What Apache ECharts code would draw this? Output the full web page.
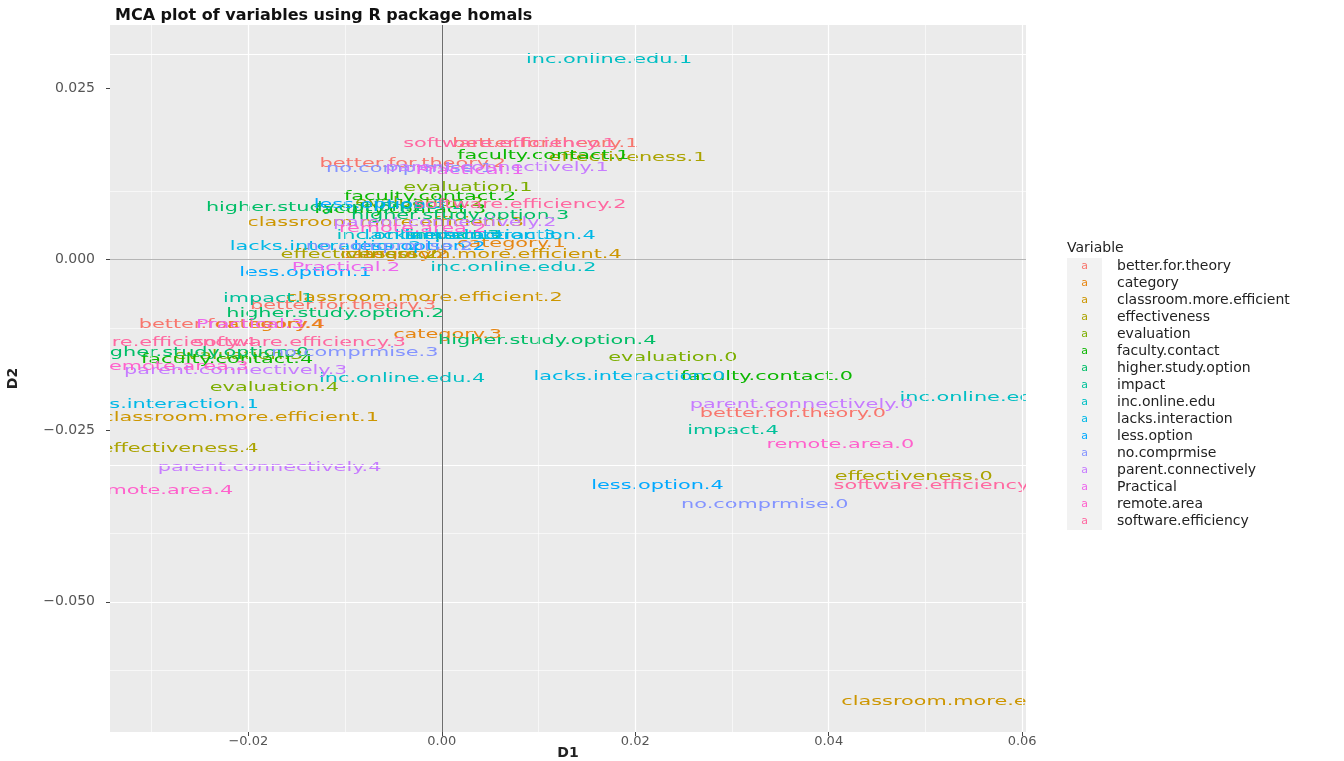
<!DOCTYPE html>
<html>
<head>
<meta charset="utf-8">
<script src="https://cdn.jsdelivr.net/npm/echarts@6/dist/echarts.min.js"></script>
<style>html,body{margin:0;padding:0;background:#fff}#c{width:1344px;height:761px}</style>
</head>
<body>
<div id="c"></div>
<script>
// ---- data: [D1, D2, level] ----
const variables = ['better.for.theory','category','classroom.more.efficient','effectiveness','evaluation',
  'faculty.contact','higher.study.option','impact','inc.online.edu','lacks.interaction','less.option',
  'no.comprmise','parent.connectively','Practical','remote.area','software.efficiency'];
const colors = ['#F8766D','#E68613','#CD9600','#ABA300','#7CAE00','#0CB702','#00BE67','#00C19A',
  '#00BFC4','#00B8E7','#00A9FF','#8494FF','#C77CFF','#ED68ED','#FF61CC','#FF68A1'];

const better_for_theory = [[0.0363,-0.0225,0],[0.0107,0.0169,1],[-0.0030,0.0140,2],[-0.0102,-0.0067,3],[-0.0217,-0.0095,4]];
const category = [[0.0072,0.0023,1],[-0.0049,0.0007,2],[0.0006,-0.0110,3],[-0.0178,-0.0095,4]];
const classroom_more_efficient = [[0.0556,-0.0645,0],[-0.0208,-0.0231,1],[-0.0018,-0.0056,2],[-0.0058,0.0054,3],[0.0043,0.0007,4]];
const effectiveness = [[0.0488,-0.0317,0],[0.0192,0.0149,1],[-0.0085,0.0007,2],[-0.0271,-0.0276,4]];
const evaluation = [[0.0239,-0.0143,0],[0.0027,0.0105,1],[-0.0023,0.0082,2],[-0.0210,-0.0140,3],[-0.0173,-0.0188,4]];
const faculty_contact = [[0.0336,-0.0171,0],[0.0105,0.0152,1],[-0.0012,0.0091,2],[-0.0043,0.0072,3],[-0.0222,-0.0147,4]];
const higher_study_option = [[-0.0250,-0.0136,0],[-0.0131,0.0075,1],[-0.0110,-0.0079,2],[0.0019,0.0064,3],[0.0109,-0.0118,4]];
const impact = [[-0.0179,-0.0057,1],[-0.0023,0.0079,2],[0.0013,0.0034,3],[0.0301,-0.0250,4]];
const inc_online_edu = [[0.0559,-0.0202,0],[0.0173,0.0292,1],[0.0074,-0.0012,2],[-0.0023,0.0034,3],[-0.0041,-0.0174,4]];
const lacks_interaction = [[0.0194,-0.0171,0],[-0.0288,-0.0212,1],[-0.0120,0.0018,2],[0.0019,0.0034,3],[0.0060,0.0034,4]];
const less_option = [[-0.0141,-0.0019,1],[-0.0023,0.0018,2],[-0.0064,0.0080,3],[0.0223,-0.0330,4]];
const no_comprmise = [[0.0334,-0.0358,0],[-0.0033,0.0133,1],[-0.0054,0.0018,2],[-0.0090,-0.0136,3]];
const parent_connectively = [[0.0372,-0.0212,0],[0.0057,0.0134,1],[0.0003,0.0054,2],[-0.0213,-0.0162,3],[-0.0178,-0.0304,4]];
const practical = [[0.0029,0.0130,1],[-0.0099,-0.0012,2],[-0.0198,-0.0095,3]];
const remote_area = [[0.0412,-0.0270,0],[-0.0030,0.0045,2],[-0.0276,-0.0156,3],[-0.0292,-0.0337,4]];
const software_efficiency = [[0.0515,-0.0331,0],[0.0070,0.0169,1],[0.0081,0.0080,2],[-0.0147,-0.0121,3],[-0.0302,-0.0121,4]];

const seriesData = [better_for_theory, category, classroom_more_efficient, effectiveness, evaluation,
  faculty_contact, higher_study_option, impact, inc_online_edu, lacks_interaction, less_option,
  no_comprmise, parent_connectively, practical, remote_area, software_efficiency];

const xTicks = [-0.02, 0, 0.02, 0.04, 0.06];
const yTicks = [-0.05, -0.025, 0, 0.025];
const xMinor = [-0.03, -0.01, 0.01, 0.03, 0.05];
const yMinor = [-0.0625, -0.0375, -0.0125, 0.0125];
const D1_MIN = -0.0343, D1_MAX = 0.0604, D2_MIN = -0.0690, D2_MAX = 0.0342;

const FONT = '"DejaVu Sans", "Liberation Sans", sans-serif';
const fmt = (v, d) => (v < 0 ? '\u2212' : '') + Math.abs(v).toFixed(d);

const chart = echarts.init(document.getElementById('c'));

const gridLines = [];
xTicks.forEach(v => gridLines.push({xAxis: v, lineStyle: {color: '#ffffff', width: 1.2}}));
xMinor.forEach(v => gridLines.push({xAxis: v, lineStyle: {color: '#ffffff', width: 0.6}}));
yTicks.forEach(v => gridLines.push({yAxis: v, lineStyle: {color: '#ffffff', width: 1.2}}));
yMinor.forEach(v => gridLines.push({yAxis: v, lineStyle: {color: '#ffffff', width: 0.6}}));
gridLines.push({yAxis: 0, lineStyle: {color: '#b5b5b5', width: 1}});
gridLines.push({xAxis: 0, lineStyle: {color: '#6e6e6e', width: 1}});

const series = [{
  type: 'line', data: [], z: 1, silent: true,
  markLine: {silent: true, symbol: ['none', 'none'], label: {show: false}, animation: false,
    lineStyle: {type: 'solid'}, data: gridLines}
}];

variables.forEach((name, i) => {
  series.push({
    name: name, type: 'custom', z: 3, clip: true,
    itemStyle: {color: colors[i]},
    encode: {x: 0, y: 1},
    data: seriesData[i],
    renderItem: function (params, api) {
      const p = api.coord([api.value(0), api.value(1)]);
      return {
        type: 'text', x: p[0], y: p[1], scaleX: 1.6, scaleY: 1,
        style: {text: name + '.' + api.value(2), fill: colors[i],
          font: '13px ' + FONT, align: 'center', verticalAlign: 'middle'}
      };
    }
  });
});

const rich = {t: {color: '#222', fontSize: 14, fontFamily: FONT, padding: [0, 0, 0, 15]}};
colors.forEach((c, i) => {
  rich['k' + i] = {width: 35, height: 17, align: 'center', backgroundColor: '#F2F2F2',
    color: c, fontSize: 11, fontFamily: FONT};
});

chart.setOption({
  animation: false,
  backgroundColor: '#ffffff',
  title: [
    {text: 'MCA plot of variables using R package homals', left: 110, top: 3,
      textStyle: {fontSize: 16, fontWeight: 'bold', color: '#111', fontFamily: FONT}},
    {text: 'Variable', left: 1062, top: 236,
      textStyle: {fontSize: 14, fontWeight: 'normal', color: '#222', fontFamily: FONT}}
  ],
  legend: {
    orient: 'vertical', left: 1057, top: 253, icon: 'none', itemWidth: 0, itemHeight: 17, itemGap: 0,
    data: variables,
    formatter: name => '{k' + variables.indexOf(name) + '|a}{t|' + name + '}',
    textStyle: {rich: rich}
  },
  grid: {left: 110, right: 318, top: 25, bottom: 29, show: true, backgroundColor: '#EBEBEB', borderWidth: 0,
    outerBoundsMode: 'none', containLabel: false},
  xAxis: {
    type: 'value', min: D1_MIN, max: D1_MAX,
    name: 'D1', nameLocation: 'middle', nameGap: 14, nameMoveOverlap: false,
    nameTextStyle: {fontSize: 14, fontWeight: 'bold', color: '#222', fontFamily: FONT},
    axisLine: {show: false, onZero: false},
    axisTick: {show: true, length: 4, lineStyle: {color: '#444'}, customValues: xTicks},
    axisLabel: {customValues: xTicks, formatter: v => fmt(v, 2), color: '#555', fontSize: 13, margin: 3, fontFamily: FONT},
    splitLine: {show: false}
  },
  yAxis: {
    type: 'value', min: D2_MIN, max: D2_MAX,
    name: 'D2', nameLocation: 'middle', nameGap: 90, nameMoveOverlap: false,
    nameTextStyle: {fontSize: 14, fontWeight: 'bold', color: '#222', fontFamily: FONT},
    axisLine: {show: false, onZero: false},
    axisTick: {show: true, length: 4, lineStyle: {color: '#444'}, customValues: yTicks},
    axisLabel: {customValues: yTicks, formatter: v => fmt(v, 3), color: '#555', fontSize: 14, margin: 15, fontFamily: FONT},
    splitLine: {show: false}
  },
  series: series
});
</script>
</body>
</html>
